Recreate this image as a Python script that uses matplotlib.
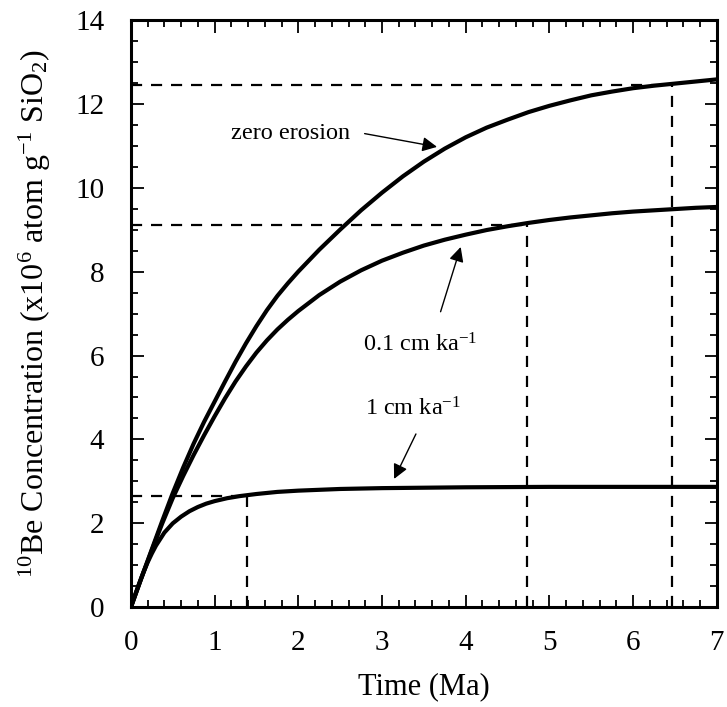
import matplotlib
matplotlib.use("Agg")
import matplotlib.pyplot as plt
from matplotlib.ticker import MultipleLocator

plt.rcParams['font.family'] = ['Liberation Serif', 'DejaVu Serif']
plt.rcParams['mathtext.fontset'] = 'custom'
plt.rcParams['mathtext.rm'] = 'Liberation Serif'
plt.rcParams['mathtext.default'] = 'regular'

# time (Ma) and 10Be concentration (x10^6 atom/g SiO2)
t_zero = [0, 0.125, 0.25, 0.375, 0.5, 0.625, 0.75, 0.875, 1.0, 1.125, 1.25, 1.375, 1.5, 1.625, 1.75, 1.875,
          2.0, 2.25, 2.5, 2.75, 3.0, 3.25, 3.5, 3.75, 4.0, 4.25, 4.5, 4.75, 5.0, 5.25, 5.5, 5.75, 6.0, 6.25,
          6.5, 6.75, 7.0]
n_zero = [0, 0.7, 1.38, 2.06, 2.72, 3.33, 3.9, 4.42, 4.9, 5.38, 5.85, 6.29, 6.7, 7.08, 7.42, 7.72,
          8.0, 8.52, 9.0, 9.46, 9.88, 10.27, 10.62, 10.93, 11.2, 11.43, 11.62, 11.8, 11.95, 12.08, 12.2, 12.29,
          12.37, 12.43, 12.48, 12.53, 12.58]

t_01 = [0, 0.125, 0.25, 0.375, 0.5, 0.625, 0.75, 0.875, 1.0, 1.125, 1.25, 1.375, 1.5, 1.625, 1.75, 1.875,
        2.0, 2.25, 2.5, 2.75, 3.0, 3.25, 3.5, 3.75, 4.0, 4.25, 4.5, 4.75, 5.0, 5.25, 5.5, 5.75, 6.0, 6.25,
        6.5, 6.75, 7.0]
n_01 = [0, 0.69, 1.36, 2.0, 2.6, 3.13, 3.63, 4.1, 4.55, 4.98, 5.38, 5.74, 6.07, 6.36, 6.62, 6.85,
        7.06, 7.44, 7.76, 8.03, 8.26, 8.45, 8.62, 8.76, 8.88, 8.99, 9.08, 9.16, 9.23, 9.29, 9.34, 9.39,
        9.43, 9.46, 9.49, 9.52, 9.54]

t_1 = [0, 0.05, 0.1, 0.15, 0.2, 0.25, 0.3, 0.4, 0.5, 0.6, 0.7, 0.8, 0.9, 1.0, 1.15, 1.3, 1.5, 1.75,
       2.0, 2.5, 3.0, 4.0, 5.0, 6.0, 7.0]
n_1 = [0, 0.29, 0.57, 0.83, 1.07, 1.28, 1.47, 1.78, 2.0, 2.16, 2.29, 2.39, 2.47, 2.53, 2.6, 2.65, 2.7, 2.75,
       2.78, 2.82, 2.84, 2.86, 2.87, 2.87, 2.87]

# guide lines: (time, concentration) of the dashed markers
guide_t = [6.46, 4.73, 1.39]
guide_n = [12.45, 9.1, 2.65]

fig = plt.figure(figsize=(7.27, 7.07), dpi=100)
ax = fig.add_axes([0.180, 0.141, 0.806, 0.831])

for gt, gn in zip(guide_t, guide_n):
    ax.plot([0, gt], [gn, gn], color='black', lw=1.6, linestyle=(0, (5, 4)))
    ax.plot([gt, gt], [0, gn], color='black', lw=1.6, linestyle=(0, (5, 4)))

for t, n in [(t_zero, n_zero), (t_01, n_01), (t_1, n_1)]:
    ax.plot(t, n, color='black', lw=3.0, solid_capstyle='round', solid_joinstyle='round')

arrow = dict(arrowstyle='-|>', color='black', lw=1.0, mutation_scale=22)
ax.text(2.62, 11.3, 'zero erosion', fontsize=17.5, ha='right', va='center')
ax.annotate('', xy=(3.69, 10.96), xytext=(2.76, 11.3), arrowprops=arrow)

ax.text(2.77, 6.25, r'0.1 cm ka$^{-1}$', fontsize=17.5, ha='left', va='center')
ax.annotate('', xy=(3.95, 8.65), xytext=(3.69, 6.98), arrowprops=arrow)

ax.text(2.80, 4.72, r'1 cm ka$^{-1}$', fontsize=17.5, ha='left', va='center')
ax.annotate('', xy=(3.13, 3.0), xytext=(3.42, 4.19), arrowprops=arrow)

ax.set_xlim(0, 7)
ax.set_ylim(0, 14)
ax.xaxis.set_major_locator(MultipleLocator(1))
ax.xaxis.set_minor_locator(MultipleLocator(0.2))
ax.yaxis.set_major_locator(MultipleLocator(2))
ax.yaxis.set_minor_locator(MultipleLocator(0.5))
ax.tick_params(which='both', direction='in', top=True, right=True, width=1.3, labelsize=21)
ax.tick_params(which='major', length=9)
ax.tick_params(which='minor', length=5)
ax.tick_params(axis='x', which='major', pad=16)
ax.tick_params(axis='y', which='major', pad=19)
for sp in ax.spines.values():
    sp.set_linewidth(2.2)

ax.set_xlabel('Time (Ma)', fontsize=22, labelpad=12)
ax.set_ylabel(r'$^{10}$Be Concentration (x10$^{6}$ atom g$^{-1}$ SiO$_{2}$)', fontsize=23, labelpad=16)

fig.savefig('out.png', dpi=100)
